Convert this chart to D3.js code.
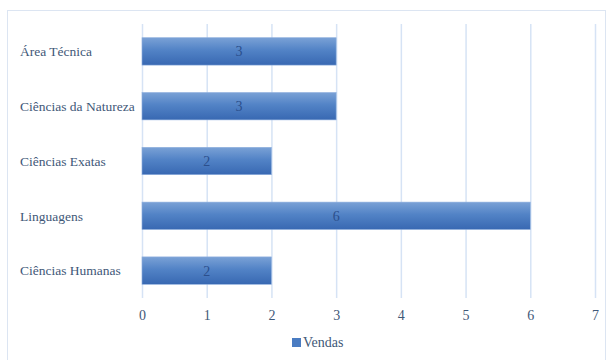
<!DOCTYPE html>
<html>
<head>
<meta charset="utf-8">
<script src="https://cdn.jsdelivr.net/npm/d3@7"></script>
<style>
  body { margin: 0; background: #fff; }
  svg { display: block; }
  text { font-family: "Liberation Serif", "DejaVu Serif", serif; }
</style>
</head>
<body>
<div id="chart"></div>
<script>
// data
var categories = ['Área Técnica', 'Ciências da Natureza', 'Ciências Exatas', 'Linguagens', 'Ciências Humanas']
var vendas = [3, 3, 2, 6, 2]
var tickVals = [0, 1, 2, 3, 4, 5, 6, 7]
var seriesName = 'Vendas'

var width = 608
var height = 360

var margin = {
  top: 24,
  right: 13,
  bottom: 62,
  left: 142
}

var svg = d3.select('#chart').append('svg')
  .attr('width', width)
  .attr('height', height)

// outer chart frame
svg.append('rect')
  .attr('x', 7.5)
  .attr('y', 10.5)
  .attr('width', 598)
  .attr('height', 360)
  .attr('fill', 'none')
  .attr('stroke', '#dce5f2')

var defs = svg.append('defs')
var grad = defs.append('linearGradient')
  .attr('id', 'barGrad')
  .attr('x1', 0).attr('y1', 0).attr('x2', 0).attr('y2', 1)
grad.append('stop').attr('offset', '0%').attr('stop-color', '#7aa1d6')
grad.append('stop').attr('offset', '45%').attr('stop-color', '#5283c6')
grad.append('stop').attr('offset', '100%').attr('stop-color', '#3868b2')

var xScale = d3.scaleLinear()
  .domain([0, 7])
  .range([margin.left, width - margin.right])

var yScale = d3.scaleBand()
  .domain(categories)
  .range([margin.top, height - margin.bottom])
  .paddingInner(0.5)
  .paddingOuter(0.25)

// vertical gridlines
svg.append('g')
  .selectAll('line')
  .data(tickVals)
  .join('line')
  .attr('x1', d => xScale(d) + 0.5)
  .attr('x2', d => xScale(d) + 0.5)
  .attr('y1', margin.top)
  .attr('y2', height - margin.bottom)
  .attr('stroke', '#d6e3f5')
  .attr('stroke-width', 1.5)

// bars
svg.append('g')
  .selectAll('rect')
  .data(vendas)
  .join('rect')
  .attr('x', xScale(0))
  .attr('y', (d, i) => yScale(categories[i]))
  .attr('width', d => xScale(d) - xScale(0))
  .attr('height', yScale.bandwidth())
  .attr('fill', 'url(#barGrad)')
  .attr('stroke', '#8fb0de')
  .attr('stroke-width', 0.6)

// value labels
svg.append('g')
  .selectAll('text')
  .data(vendas)
  .join('text')
  .attr('x', d => (xScale(d) + xScale(0)) / 2)
  .attr('y', (d, i) => yScale(categories[i]) + yScale.bandwidth() / 2)
  .attr('dy', '0.35em')
  .attr('text-anchor', 'middle')
  .attr('font-size', 14)
  .attr('fill', '#2b4f8c')
  .text(d => d)

// category labels
svg.append('g')
  .selectAll('text')
  .data(categories)
  .join('text')
  .attr('x', 20)
  .attr('y', d => yScale(d) + yScale.bandwidth() / 2)
  .attr('dy', '0.35em')
  .attr('font-size', 13.5)
  .attr('fill', '#3f5878')
  .text(d => d)

// x axis
var xAxis = d3.axisBottom(xScale)
  .tickValues(tickVals)
  .tickSize(0)
  .tickPadding(10)
  .tickFormat(d => d.toString())

var gx = svg.append('g')
  .attr('transform', 'translate(0,' + (height - margin.bottom + 2) + ')')
  .call(xAxis)
gx.select('.domain').remove()
gx.selectAll('text')
  .attr('font-family', '"Liberation Serif", "DejaVu Serif", serif')
  .attr('font-size', 14)
  .attr('fill', '#3f5878')

// legend
var legend = svg.append('g').attr('transform', 'translate(292,338)')
legend.append('rect')
  .attr('width', 9)
  .attr('height', 9)
  .attr('fill', '#4a7cc2')
legend.append('text')
  .attr('x', 11)
  .attr('y', 4.5)
  .attr('dy', '0.35em')
  .attr('font-size', 14)
  .attr('fill', '#3f5878')
  .text(seriesName)
</script>
</body>
</html>
